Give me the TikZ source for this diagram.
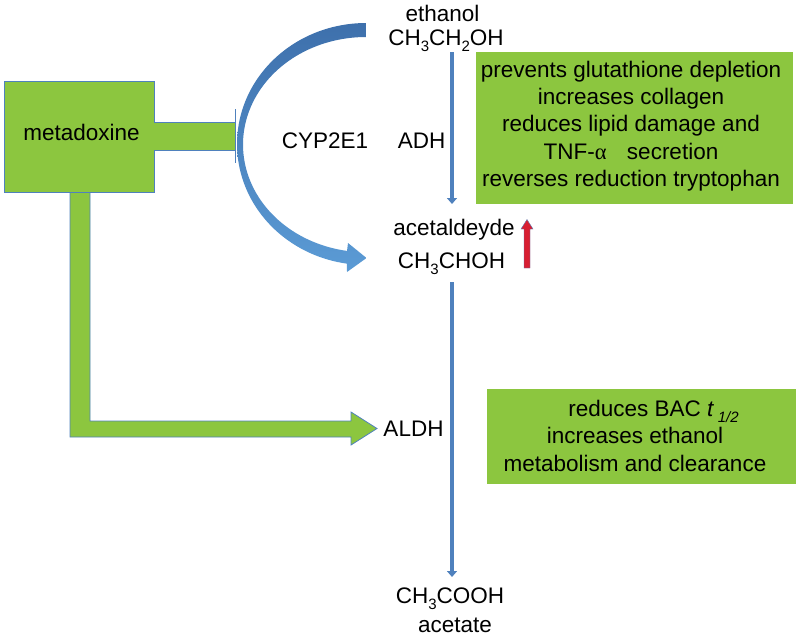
\documentclass[tikz,border=0pt]{standalone}
\usepackage{fontspec}
\setmainfont{Liberation Sans}
\newfontfamily\greekserif{Liberation Serif}
\usetikzlibrary{arrows.meta}
\definecolor{grn}{RGB}{140,198,63}
\definecolor{edgeblue}{RGB}{79,129,189}
\definecolor{lineblue}{RGB}{79,129,189}
\definecolor{darkblue}{RGB}{62,112,172}
\definecolor{lightblue}{RGB}{91,155,213}
\definecolor{redarrow}{RGB}{215,30,50}
\newcommand\mysub[1]{\raisebox{-6pt}{\fontsize{15}{15}\selectfont #1}}
\begin{document}
\begin{tikzpicture}[x=1pt,y=-1pt,
  lbl/.style={font=\fontsize{22.5}{27.3}\selectfont, inner sep=0pt, anchor=base, text=black},
  greenbox/.style={fill=grn, draw=none, inner sep=0pt},
  greenshape/.style={fill=grn, draw=edgeblue, line width=0.8pt},
  patharrow/.style={draw=lineblue, line width=3.5pt, -{Triangle[width=10pt,length=6pt]}}
]
\useasboundingbox (0,0) rectangle (800,637);

% CYP2E1 curved arrow
\shade[top color=darkblue, bottom color=lightblue]
  plot[domain=0:171.5, samples=80] ({366+129*cos(270-\x)},{144+121*sin(270-\x)})
  -- (347,272) -- (366.5,258) -- (348,243) -- (347,251)
  -- plot[domain=0:171.1, samples=80] ({366+123*cos(98.9+\x)},{144.6+107.6*sin(98.9+\x)})
  -- cycle;

% L-shaped green arrow to ALDH
\filldraw[greenshape] (70,192) -- (70,437) -- (351,437) -- (351,445) -- (377,428.5)
  -- (351,412) -- (351,421) -- (90,421) -- (90,192);

% metadoxine shape
\filldraw[greenshape] (4,81) -- (154,81) -- (154,122) -- (235,122) -- (235,150)
  -- (154,150) -- (154,192) -- (4,192) -- cycle;
\draw[edgeblue, line width=1pt] (235,109) -- (235,163);
\node[lbl] (meta) at (81.5,140) {metadoxine};

% labels
\node[lbl] (eth) at (442.5,21) {ethanol};
\node[lbl] (ethf) at (446,45) {CH\mysub{3}CH\mysub{2}OH};
\node[lbl] (cyp) at (325,148) {CYP2E1};
\node[lbl] (adh) at (421.5,148) {ADH};
\node[lbl] (acal) at (454,235) {acetaldeyde};
\node[lbl] (acalf) at (451.5,268) {CH\mysub{3}CHOH};
\node[lbl] (aldh) at (413.5,436) {ALDH};
\node[lbl] (acf) at (450,603) {CH\mysub{3}COOH};
\node[lbl] (ac) at (455,632) {acetate};

% main pathway arrows
\coordinate (a1s) at (452,52);
\coordinate (a1e) at (452,204);
\coordinate (a2s) at (452,282);
\coordinate (a2e) at (452,577);
\draw[patharrow] (a1s) -- (a1e);
\draw[patharrow] (a2s) -- (a2e);

% red up arrow
\filldraw[fill=redarrow, draw=edgeblue, line width=0.35pt] (524,268) -- (524,229) -- (521,229)
  -- (527,219.5) -- (533,229) -- (530,229) -- (530,268) -- cycle;

% effect boxes
\node[greenbox, minimum width=317pt, minimum height=152pt] (b1) at (634.5,128) {};
\node[lbl, align=center] (b1t) at (631,186.5) {prevents glutathione depletion\\increases collagen\\reduces lipid damage and\\TNF-{\greekserif α}\hspace{0.9em}secretion\\reverses reduction tryptophan};

\node[greenbox, minimum width=309pt, minimum height=95pt] (b2) at (641.5,436.5) {};
\node[lbl, align=center] (b2t) at (635,471) {\hspace*{37pt}reduces BAC \textit{t}\,\mysub{\textit{1/2}}\\increases ethanol\\metabolism and clearance};
\end{tikzpicture}
\end{document}
